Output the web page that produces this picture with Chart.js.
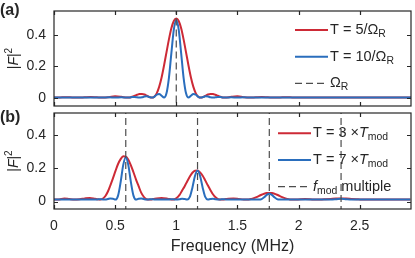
<!DOCTYPE html>
<html>
<head>
<meta charset="utf-8">
<script src="https://cdn.jsdelivr.net/npm/chart.js@4.4.0/dist/chart.umd.min.js"></script>
<style>
  html, body { margin: 0; padding: 0; background: #fff; }
  #wrap { position: relative; width: 415px; height: 258px; overflow: hidden; }
  #boxA { position: absolute; left: 0; top: 0; }
  #boxB { position: absolute; left: 0; top: 110px; }
  canvas { display: block; }
</style>
</head>
<body>
<div id="wrap">
  <div id="boxA"><canvas id="chartA" width="415" height="110"></canvas></div>
  <div id="boxB"><canvas id="chartB" width="415" height="148"></canvas></div>
</div>
<script>
// panel (a): T = 5/Omega and T = 10/Omega
const freqA = [0, 0.05, 0.1, 0.15, 0.2, 0.25, 0.3, 0.35, 0.4, 0.45, 0.5, 0.55, 0.6,
  0.62, 0.64, 0.66, 0.68, 0.7, 0.72, 0.74, 0.76, 0.78, 0.8, 0.82, 0.84, 0.86, 0.88, 0.9, 0.92, 0.94, 0.96, 0.98, 1,
  1.02, 1.04, 1.06, 1.08, 1.1, 1.12, 1.14, 1.16, 1.18, 1.2, 1.22, 1.24, 1.26, 1.28, 1.3, 1.32, 1.34, 1.36, 1.38, 1.4,
  1.45, 1.5, 1.55, 1.6, 1.65, 1.7, 1.75, 1.8, 1.85, 1.9, 1.95, 2,
  2.05, 2.1, 2.15, 2.2, 2.25, 2.3, 2.35, 2.4, 2.45, 2.5, 2.55, 2.6, 2.65, 2.7, 2.75, 2.8, 2.85, 2.9, 2.95];
const redA = [0.003, 0.004, 0.0055, 0.004, 0.003, 0.005, 0.007, 0.005, 0.003, 0.006, 0.011, 0.008, 0.003,
  0.004, 0.0085, 0.0145, 0.021, 0.0255, 0.026, 0.023, 0.015, 0.007, 0.003, 0.009, 0.03, 0.071, 0.13, 0.206, 0.289, 0.371, 0.441, 0.487, 0.503,
  0.487, 0.441, 0.371, 0.289, 0.206, 0.13, 0.071, 0.03, 0.009, 0.003, 0.007, 0.015, 0.023, 0.026, 0.0255, 0.021, 0.0145, 0.0085, 0.004, 0.003,
  0.008, 0.011, 0.006, 0.003, 0.005, 0.007, 0.005, 0.003, 0.004, 0.0055, 0.004, 0.003,
  0.0035, 0.004, 0.0035, 0.003, 0.0035, 0.004, 0.0035, 0.003, 0.0035, 0.004, 0.0035, 0.003, 0.0035, 0.004, 0.0035, 0.003, 0.0035, 0.004, 0.0035];
const blueA = [0.003, 0.0035, 0.003, 0.0035, 0.003, 0.004, 0.003, 0.004, 0.003, 0.0046, 0.003, 0.0055, 0.003,
  0.004, 0.0065, 0.007, 0.005, 0.003, 0.005, 0.0096, 0.011, 0.0065, 0.003, 0.008, 0.021, 0.026, 0.015, 0.003, 0.03, 0.128, 0.284, 0.432, 0.493,
  0.432, 0.284, 0.128, 0.03, 0.003, 0.015, 0.026, 0.021, 0.008, 0.003, 0.0065, 0.011, 0.0096, 0.005, 0.003, 0.005, 0.007, 0.0065, 0.004, 0.003,
  0.0055, 0.003, 0.0046, 0.003, 0.004, 0.003, 0.004, 0.003, 0.0035, 0.003, 0.0035, 0.003,
  0.0033, 0.003, 0.0033, 0.003, 0.0033, 0.003, 0.0033, 0.003, 0.0033, 0.003, 0.0033, 0.003, 0.0033, 0.003, 0.0033, 0.003, 0.0033, 0.003, 0.0033];
const marksA = [1];

// panel (b): T = 3 x Tmod and T = 7 x Tmod
const freqB = [0, 0.042, 0.084, 0.126, 0.168, 0.21, 0.252, 0.293, 0.335,
  0.356, 0.377, 0.398, 0.419, 0.44, 0.461, 0.482, 0.503, 0.524, 0.545, 0.566, 0.587, 0.608, 0.629, 0.65, 0.671,
  0.692, 0.713, 0.734, 0.755, 0.776, 0.797, 0.818, 0.839, 0.88,
  0.922, 0.943, 0.964, 0.985, 1.006, 1.027, 1.048, 1.069, 1.09, 1.111, 1.132, 1.153, 1.174, 1.195, 1.216, 1.237,
  1.258, 1.279, 1.3, 1.321, 1.342, 1.363, 1.384, 1.405, 1.426, 1.467, 1.509, 1.551,
  1.593, 1.614, 1.635, 1.656, 1.677, 1.698, 1.719, 1.74, 1.761, 1.782, 1.803, 1.824, 1.845, 1.866, 1.887, 1.908, 1.929,
  1.971, 2.013, 2.054, 2.096, 2.138, 2.18, 2.222, 2.264, 2.306, 2.348, 2.39, 2.432, 2.474, 2.516, 2.558, 2.6,
  2.641, 2.683, 2.725, 2.767, 2.809, 2.851, 2.893, 2.914];
const redB = [0.012, 0.013, 0.019, 0.015, 0.012, 0.014, 0.019, 0.022, 0.017,
  0.014, 0.012, 0.017, 0.032, 0.059, 0.098, 0.14, 0.185, 0.227, 0.256, 0.273, 0.271, 0.253, 0.219, 0.177, 0.133,
  0.093, 0.054, 0.029, 0.015, 0.012, 0.013, 0.016, 0.019, 0.021,
  0.018, 0.015, 0.012, 0.014, 0.023, 0.04, 0.067, 0.093, 0.123, 0.151, 0.174, 0.186, 0.187, 0.176, 0.156, 0.128,
  0.098, 0.07, 0.044, 0.026, 0.015, 0.012, 0.013, 0.015, 0.017, 0.018, 0.016, 0.013,
  0.013, 0.016, 0.021, 0.027, 0.034, 0.041, 0.047, 0.051, 0.052, 0.051, 0.047, 0.041, 0.034, 0.027, 0.021, 0.016, 0.013,
  0.012, 0.014, 0.015, 0.014, 0.012, 0.012, 0.014, 0.016, 0.018, 0.019, 0.018, 0.016, 0.014, 0.012, 0.012, 0.013,
  0.013, 0.012, 0.012, 0.013, 0.013, 0.012, 0.012, 0.012];
const blueB = [0.012, 0.013, 0.012, 0.013, 0.012, 0.013, 0.012, 0.013, 0.012,
  0.013, 0.014, 0.013, 0.012, 0.015, 0.019, 0.017, 0.012, 0.036, 0.117, 0.22, 0.268, 0.22, 0.117, 0.036, 0.012,
  0.017, 0.019, 0.015, 0.012, 0.013, 0.014, 0.013, 0.012, 0.013,
  0.012, 0.013, 0.014, 0.013, 0.012, 0.014, 0.017, 0.015, 0.012, 0.028, 0.084, 0.154, 0.187, 0.154, 0.084, 0.028,
  0.012, 0.015, 0.017, 0.014, 0.012, 0.013, 0.014, 0.013, 0.012, 0.013, 0.012, 0.013,
  0.012, 0.012, 0.013, 0.013, 0.012, 0.015, 0.026, 0.04, 0.047, 0.04, 0.026, 0.015, 0.012, 0.013, 0.013, 0.012, 0.012,
  0.0125, 0.012, 0.0125, 0.012, 0.0125, 0.012, 0.0125, 0.012, 0.014, 0.017, 0.014, 0.012, 0.0125, 0.012, 0.0125, 0.012,
  0.0125, 0.012, 0.0125, 0.012, 0.0125, 0.012, 0.0125, 0.012];
const marksB = [0.587, 1.174, 1.761, 2.348];

const xTicks = [0, 0.5, 1, 1.5, 2, 2.5];
const yTicks = [0, 0.2, 0.4];

const INK = '#262626';
const RED = '#cd2a36';
const BLUE = '#2a6ebd';
const DASH = '#4d4d4d';
const FONT = '"Liberation Sans", Arial, Helvetica, sans-serif';

// write a list of [text, style] runs; style '' | 'i' | 'sub' | 'sup'
function drawRuns(ctx, runs, x, y, size, measureOnly) {
  runs.forEach(([t, s]) => {
    let fs = size, dy = 0, it = '';
    if (s === 'sub') { fs = size * 0.72; dy = size * 0.28; }
    if (s === 'sup') { fs = size * 0.72; dy = -size * 0.45; }
    if (s === 'i') it = 'italic ';
    ctx.font = it + fs + 'px ' + FONT;
    if (!measureOnly) ctx.fillText(t, x, y + dy);
    x += ctx.measureText(t).width;
  });
  return x;
}

const framePlugin = {
  id: 'frame',
  afterDatasetsDraw(chart, args, o) {
    const { ctx, chartArea: a, scales: { x, y } } = chart;
    ctx.save();
    ctx.strokeStyle = INK;
    ctx.lineWidth = 1.2;
    ctx.strokeRect(a.left, a.top, a.right - a.left, a.bottom - a.top);
    // inner tick marks on all four sides
    ctx.beginPath();
    x.ticks.forEach(t => {
      const px = Math.round(x.getPixelForValue(t.value)) + 0.5;
      ctx.moveTo(px, a.bottom); ctx.lineTo(px, a.bottom - 4);
      ctx.moveTo(px, a.top); ctx.lineTo(px, a.top + 4);
    });
    y.ticks.forEach(t => {
      const py = Math.round(y.getPixelForValue(t.value)) + 0.5;
      ctx.moveTo(a.left, py); ctx.lineTo(a.left + 4, py);
      ctx.moveTo(a.right, py); ctx.lineTo(a.right - 4, py);
    });
    ctx.stroke();

    ctx.fillStyle = INK;
    ctx.textBaseline = 'middle';
    // legend
    o.legend.forEach((item, k) => {
      const ly = o.ly + k * 26.7;
      ctx.strokeStyle = item.color;
      ctx.lineWidth = item.dash.length ? 1.2 : 2;
      ctx.setLineDash(item.dash);
      ctx.beginPath();
      ctx.moveTo(o.lx, ly); ctx.lineTo(o.lx + 33, ly);
      ctx.stroke();
      ctx.setLineDash([]);
      drawRuns(ctx, item.runs, o.lx + 35, ly, 14.5);
    });

    // y title |F|^2
    const runs = [['|', ''], ['F', 'i'], ['|', ''], ['2', 'sup']];
    const w = drawRuns(ctx, runs, 0, 0, 14, true);
    ctx.save();
    ctx.translate(18, (a.top + a.bottom) / 2);
    ctx.rotate(-Math.PI / 2);
    ctx.textBaseline = 'alphabetic';
    drawRuns(ctx, runs, -w / 2, 0, 14);
    ctx.restore();

    // panel tag
    ctx.textBaseline = 'alphabetic';
    ctx.font = 'bold 16px ' + FONT;
    ctx.fillText(o.tag, 0, o.tagY);
    ctx.restore();
  }
};

function curve(xs, ys, color) {
  return {
    data: xs.map((v, i) => ({ x: v, y: ys[i] })),
    borderColor: color, borderWidth: 2, pointRadius: 0,
    cubicInterpolationMode: 'monotone', fill: false
  };
}

function marks(list, lo, hi) {
  return list.map(v => ({
    data: [{ x: v, y: lo }, { x: v, y: hi }],
    borderColor: DASH, borderWidth: 1.2, borderDash: [7, 4], pointRadius: 0
  }));
}

// keep label overhang from pushing the plot area around
const noPad = s => { s.paddingTop = 0; s.paddingBottom = 0; s.paddingLeft = 0; s.paddingRight = 0; };

function options(yMin, yMax, showX, pad, frame) {
  return {
    responsive: false,
    animation: false,
    devicePixelRatio: 1,
    layout: { padding: pad },
    plugins: { legend: { display: false }, tooltip: { enabled: false }, frame: frame },
    scales: {
      x: {
        type: 'linear', min: 0, max: 2.92,
        afterBuildTicks: s => { s.ticks = xTicks.map(v => ({ value: v })); },
        afterFit: s => { noPad(s); if (showX) s.height = 47; },
        grid: { display: false, drawTicks: false },
        border: { display: false },
        ticks: { display: showX, padding: 9, autoSkip: false, maxRotation: 0, color: INK,
                 font: { family: FONT, size: 14 }, callback: v => String(v) },
        title: { display: showX, text: 'Frequency (MHz)', color: INK,
                 font: { family: FONT, size: 16 }, padding: { top: 1, bottom: 0 } }
      },
      y: {
        type: 'linear', min: yMin, max: yMax,
        afterBuildTicks: s => { s.ticks = yTicks.map(v => ({ value: v })); },
        afterFit: s => { s.width = 54; noPad(s); },
        grid: { display: false, drawTicks: false },
        border: { display: false },
        ticks: { padding: 8, color: INK, font: { family: FONT, size: 14 }, callback: v => String(v) }
      }
    }
  };
}

new Chart(document.getElementById('chartA'), {
  type: 'line',
  data: { datasets: [...marks(marksA, -1, 1), curve(freqA, blueA, BLUE), curve(freqA, redA, RED)] },
  options: options(-0.05, 0.55, false, { top: 11, right: 4, bottom: 4, left: 0 }, {
    tag: '(a)', tagY: 15, lx: 295, ly: 30,
    legend: [
      { color: RED, dash: [], runs: [['T = 5/Ω', ''], ['R', 'sub']] },
      { color: BLUE, dash: [], runs: [['T = 10/Ω', ''], ['R', 'sub']] },
      { color: DASH, dash: [7, 4], runs: [['Ω', ''], ['R', 'sub']] }
    ]
  }),
  plugins: [framePlugin]
});

new Chart(document.getElementById('chartB'), {
  type: 'line',
  data: { datasets: [...marks(marksB, -1, 1), curve(freqB, blueB, BLUE), curve(freqB, redB, RED)] },
  options: options(-0.045, 0.535, true, { top: 3, right: 4, bottom: 2, left: 0 }, {
    tag: '(b)', tagY: 12, lx: 278, ly: 23.3,
    legend: [
      { color: RED, dash: [], runs: [['T = 3 ×', ''], ['T', 'i'], ['mod', 'sub']] },
      { color: BLUE, dash: [], runs: [['T = 7 ×', ''], ['T', 'i'], ['mod', 'sub']] },
      { color: DASH, dash: [7, 4], runs: [['f', 'i'], ['mod', 'sub'], [' multiple', '']] }
    ]
  }),
  plugins: [framePlugin]
});
</script>
</body>
</html>
